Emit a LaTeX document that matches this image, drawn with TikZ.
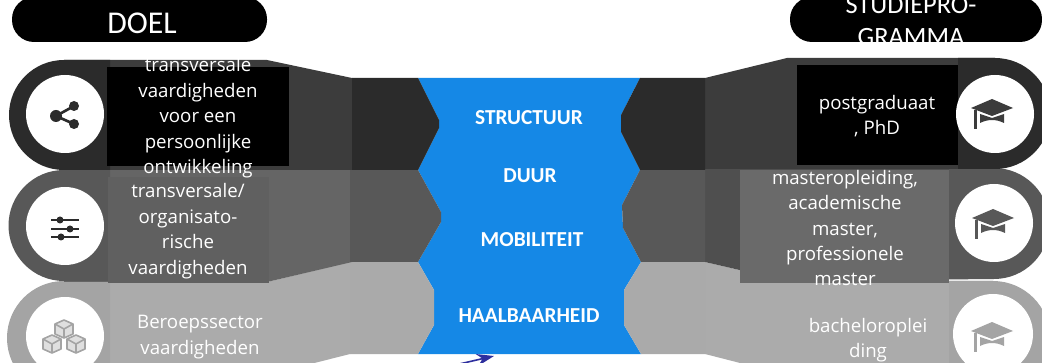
\documentclass[tikz,border=0pt]{standalone}
\usepackage{fontspec}
\setmainfont{Open Sans}
\newfontfamily\headfont{Carlito}
\usetikzlibrary{arrows.meta}
\definecolor{bluemain}{HTML}{1588E6}
\definecolor{rowA}{HTML}{2B2B2B}
\definecolor{rowAm}{HTML}{3C3C3C}
\definecolor{rowB}{HTML}{585858}
\definecolor{rowBm}{HTML}{656565}
\definecolor{rowC}{HTML}{A4A4A4}
\definecolor{rowCm}{HTML}{ABABAB}
\definecolor{navyarrow}{HTML}{2E2F9E}
\tikzset{
  x=0.75pt,y=-0.75pt,
  pill/.style={fill=black,rounded corners=16.5pt},
  bodytext/.style={text=white,font=\fontsize{14}{19.1}\selectfont,align=center,inner sep=0pt},
  headtext/.style={text=white,font=\headfont\fontsize{23.8}{25}\selectfont,align=center,inner sep=0pt},
  headtwo/.style={text=white,font=\headfont\fontsize{19.8}{23.3}\selectfont,align=center,inner sep=0pt},
  centretext/.style={text=white,font=\headfont\fontsize{16}{18}\selectfont\bfseries,inner sep=0pt},
  disc/.style={circle,fill=white,inner sep=0pt,minimum size=58.5pt}
}
\newcommand{\capicon}[2]{%
  \begin{scope}[shift={(#1)}]
    \fill[#2] (-21,-6) -- (0,-15) -- (21,-6) -- (0,2) -- cycle;
    \fill[#2] (-12,0) -- (0,4) -- (12,0) -- (12,9) .. controls (4,5) and (-4,5) .. (-12,9) -- cycle;
    \fill[#2] (-18,-4) rectangle (-15,15);
  \end{scope}}
\begin{document}
\begin{tikzpicture}
\useasboundingbox (0,0) rectangle (1042,363);
\clip (0,0) rectangle (1042,363);
\fill[white] (0,0) rectangle (1042,363);
% blue centre
\fill[bluemain] (418,78) -- (640,78) -- (621,115) -- (621,132) -- (640,170) -- (622,205) -- (623,228) -- (641,262) -- (624,290) -- (624,325) -- (641,354) -- (418,354) -- (434,325) -- (434,290) -- (418,262) -- (441,222) -- (441,212) -- (418,170) -- (439,128) -- (439,120) -- cycle;
% row 3 left
\fill[rowCm] (64,282) -- (267,282) -- (350,262) -- (350,354) -- (267,375) -- (64,375) -- cycle;
\fill[rowC] (64,281) arc[start angle=-90,end angle=-270,radius=57] -- (110,395) -- (110,281) -- cycle;
\fill[rowC!94!white] (350,262) -- (418,262) -- (434,290) -- (434,325) -- (418,354) -- (350,354) -- cycle;
% row 2 left
\fill[rowBm] (64,170) -- (352,170) -- (352,262) -- (267,282) -- (64,282) -- cycle;
\fill[rowB] (64,170) arc[start angle=-90,end angle=-270,radius=55.5] -- (110,281) -- (110,170) -- cycle;
\fill[rowB] (350,170) -- (418,170) -- (441,212) -- (441,222) -- (418,262) -- (350,262) -- cycle;
% row 1 left
\fill[rowAm] (64,60) -- (267,60) -- (352,78) -- (352,170) -- (64,170) -- cycle;
\fill[rowA] (64,60) arc[start angle=-90,end angle=-270,radius=55] -- (110,170) -- (110,60) -- cycle;
\fill[rowA] (352,78) -- (418,78) -- (439,120) -- (439,128) -- (418,170) -- (352,170) -- cycle;
% row 3 right
\fill[rowCm] (993,281) -- (787,281) -- (705,262) -- (705,354) -- (787,375) -- (993,375) -- cycle;
\fill[rowC] (993,281) arc[start angle=-90,end angle=90,radius=57] -- (949,395) -- (949,281) -- cycle;
\fill[rowC!94!white] (705,262) -- (641,262) -- (624,290) -- (624,325) -- (641,354) -- (705,354) -- cycle;
% row 2 right
\fill[rowB!90!black] (994,169) -- (705,169) -- (705,262) -- (787,281) -- (994,279) -- cycle;
\fill[rowB] (994,168) arc[start angle=-90,end angle=90,radius=55.5] -- (949,279) -- (949,168) -- cycle;
\fill[rowB] (705,170) -- (640,170) -- (622,205) -- (623,228) -- (641,262) -- (705,262) -- cycle;
% row 1 right
\fill[rowAm] (995,58) -- (787,58) -- (705,78) -- (705,169) -- (995,169) -- cycle;
\fill[rowA] (995,58) arc[start angle=-90,end angle=90,radius=55.5] -- (958,169) -- (958,58) -- cycle;
\fill[rowA] (705,78) -- (640,78) -- (621,115) -- (621,132) -- (640,170) -- (705,170) -- cycle;
% text boxes
\fill[black] (107,67) rectangle (289,166);
\fill[rowB!95!white] (108,177) rectangle (269,283);
\fill[black] (797,65) rectangle (958,165);
\fill[rowBm!97!white] (740,170) rectangle (949,283);
% header pills
\fill[pill] (12,-3) rectangle (267,42);
\fill[pill] (790,-3) rectangle (1042,42);
\node[headtext] (doel) at (142,23) {DOEL};
\node[headtwo] (studie) at (911,21) {STUDIEPRO-\\GRAMMA};
% discs
\node[disc] (d1) at (65,114) {};
\node[disc] (d2) at (65,226) {};
\node[disc] (d3) at (65,336) {};
\node[disc] (d4) at (995,114) {};
\node[disc] (d5) at (994,223) {};
\node[disc,minimum size=60pt] (d6) at (993,334) {};
% share icon
\begin{scope}[shift={(65,115)}]
  \draw[rowA,line width=2pt] (9,-9) -- (-9,1) -- (9,9);
  \fill[rowA] (9,-9) circle[radius=5] (-9,1) circle[radius=6] (9,9) circle[radius=5];
\end{scope}
% sliders icon
\begin{scope}[shift={(65,229)},rowA]
  \draw[line width=1pt] (-14,-9) -- (14,-9) (-14,0) -- (14,0) (-14,8) -- (14,8);
  \fill (-5,-9) circle[radius=3.5] (5,0) circle[radius=3.5] (-4,8) circle[radius=3.5];
\end{scope}
% blocks icon
\begin{scope}[shift={(64,342)},line width=1.2pt,line join=round]
  \foreach \a/\b in {0/-13,-12/2,12/2}{
    \begin{scope}[shift={(\a,\b)}]
      \filldraw[fill=rowC!35!white,draw=rowC] (-9,-5) -- (0,-9) -- (9,-5) -- (9,5) -- (0,9) -- (-9,5) -- cycle;
      \draw[rowC] (-9,-5) -- (0,0) -- (9,-5) (0,0) -- (0,9);
    \end{scope}}
\end{scope}
\capicon{992,114}{rowAm}
\capicon{993,224}{rowB}
\capicon{992,337}{rowC}
% left labels
\node[bodytext] (t1) at (198,118) {transversale\\vaardigheden\\voor een\\persoonlijke\\ontwikkeling};
\node[bodytext] (t2) at (188,231) {transversale/\\organisato-\\rische\\vaardigheden};
\node[bodytext] (t3) at (200,337) {Beroepssector\\vaardigheden};
% right labels
\node[bodytext] (t4) at (877,116) {postgraduaat\\, PhD};
\node[bodytext] (t5) at (845,228) {masteropleiding,\\academische\\master,\\professionele\\master};
\node[bodytext] (t6) at (868,340) {bacheloroplei\\ding};
% centre labels
\node[centretext] (c1) at (529,118) {STRUCTUUR};
\node[centretext] (c2) at (530,176) {DUUR};
\node[centretext] (c3) at (532,240) {MOBILITEIT};
\node[centretext] (c4) at (529,316) {HAALBAARHEID};
% small arrow
\coordinate (aS) at (455,365);
\coordinate (aE) at (494,356);
\draw[navyarrow,line width=1.2pt,-{Stealth[length=13pt,width=9pt]}] (aS) -- (aE);
\end{tikzpicture}
\end{document}
